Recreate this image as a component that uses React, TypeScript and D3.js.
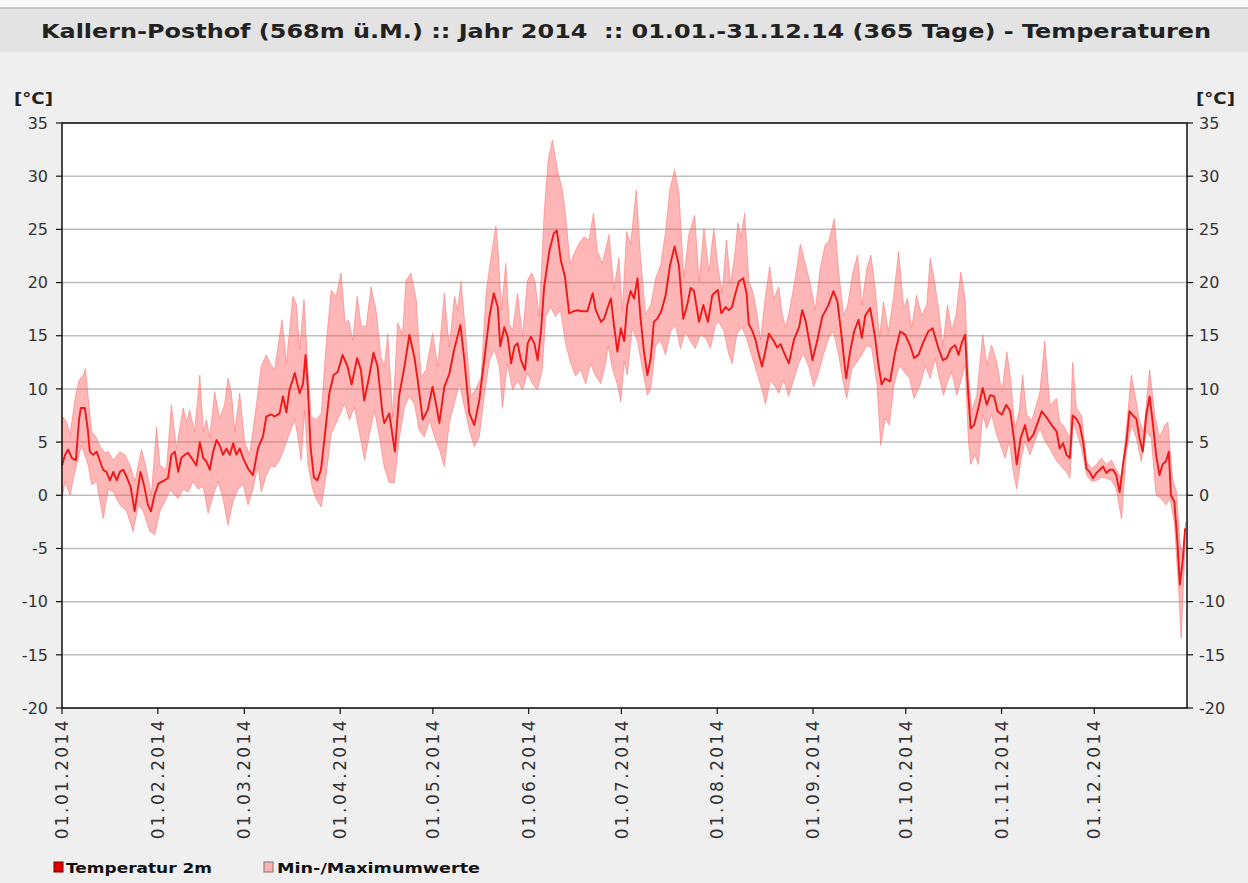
import React from 'react';
import * as d3 from 'd3';

// day of year where each month starts, and the axis labels
const monthStarts = [0, 31, 59, 90, 120, 151, 181, 212, 243, 273, 304, 334];
const monthLabels = [
  '01.01.2014', '01.02.2014', '01.03.2014', '01.04.2014', '01.05.2014', '01.06.2014',
  '01.07.2014', '01.08.2014', '01.09.2014', '01.10.2014', '01.11.2014', '01.12.2014',
];
const tempTicks = [-20, -15, -10, -5, 0, 5, 10, 15, 20, 25, 30, 35];

// [day of year, °C]
const tempMean = [
  [0, 2.8], [1, 3.8], [2, 4.3], [3.2, 3.5], [4.5, 3.3], [5.5, 7.1], [6.1, 8.2], [7.4, 8.2], [8.3, 6.3], [9, 4.1],
  [10.1, 3.8], [11.2, 4.1], [12.3, 3.2], [13.3, 2.4], [14.4, 2.2], [15.5, 1.4], [16.6, 2.2], [17.7, 1.4], [18.7, 2.2],
  [19.8, 2.4], [20.8, 1.8], [22.2, 0.8], [23.5, -1.5], [24.6, 0.7], [25.4, 2.2], [26.5, 1.0], [27.8, -0.9], [28.8, -1.5],
  [29.9, 0.0], [31.2, 1.1], [33.1, 1.4], [34.3, 1.6], [35.4, 3.8], [36.5, 4.1], [37.6, 2.2], [38.6, 3.5], [39.7, 3.8],
  [40.8, 4.0], [41.9, 3.5], [43.5, 2.8], [44.6, 5.0], [45.7, 3.5], [46.7, 3.2], [47.8, 2.4], [48.9, 4.1], [50, 5.2],
  [51, 4.7], [52.1, 3.8], [53.2, 4.4], [54.3, 3.8], [55.4, 4.9], [56.4, 3.8], [57.5, 4.4], [58.6, 3.5], [60.2, 2.5],
  [61.8, 1.9], [63.4, 4.4], [65, 5.5], [66.1, 7.4], [67.7, 7.6], [68.8, 7.4], [70.4, 7.7], [71.5, 9.3], [72.6, 7.8],
  [73.6, 9.9], [75.3, 11.5], [76.9, 9.6], [78, 10.5], [78.8, 13.2], [79.6, 9.9], [80.4, 4.6], [81.5, 1.7], [82.6, 1.4],
  [83.8, 2.4], [85.1, 5.8], [86.5, 9.6], [87.9, 11.3], [89.2, 11.6], [90.8, 13.2], [92.4, 12.1], [93.7, 10.4],
  [95.5, 12.9], [96.7, 11.8], [97.8, 8.9], [99.2, 10.9], [100.8, 13.4], [102.1, 12.1], [103.7, 7.7], [104.3, 6.8],
  [105.9, 7.7], [107, 5.5], [107.7, 4.1], [109.1, 9.4], [110.8, 12.1], [112.4, 15.1], [114, 13.0], [115.1, 10.8],
  [116.7, 7.1], [118.3, 8.0], [119.9, 10.2], [121, 8.6], [122.1, 6.8], [123.7, 10.2], [125.3, 11.4], [126.9, 13.7],
  [128.9, 16.0], [130.2, 12.7], [131.8, 7.7], [133.4, 6.6], [135, 8.9], [136.6, 12.7], [138.3, 16.8], [139.7, 19.0],
  [141, 17.7], [141.8, 14.0], [143.1, 15.8], [144.2, 14.9], [145.3, 12.4], [146.4, 14.0], [147.4, 14.3], [148.5, 12.7],
  [149.8, 11.8], [150.7, 14.3], [151.7, 14.9], [152.8, 14.3], [153.9, 12.7], [155, 15.5], [156, 19.6], [157.7, 23.0],
  [159.1, 24.6], [160.1, 24.9], [161.4, 22.1], [162.7, 20.6], [164.1, 17.1], [165.5, 17.3], [166.8, 17.4], [168.4, 17.3],
  [170, 17.3], [171.7, 19.0], [172.7, 17.4], [174.4, 16.3], [175.4, 16.6], [176.5, 17.6], [177.6, 18.5], [178.6, 16.0],
  [179.7, 13.5], [180.8, 15.7], [181.9, 14.5], [182.9, 17.9], [184, 19.2], [185.1, 18.5], [186.2, 20.4], [187.2, 16.6],
  [188.3, 13.5], [189.4, 11.3], [190.5, 12.9], [191.5, 16.3], [192.6, 16.6], [193.9, 17.3], [195.3, 18.8], [196.7, 21.6],
  [198.2, 23.4], [199.6, 21.6], [201, 16.6], [202.3, 17.9], [203.4, 19.5], [204.5, 19.2], [206.1, 16.3], [207.5, 17.9],
  [209, 16.3], [210.4, 18.8], [212.2, 19.3], [213.3, 17.1], [214.7, 17.7], [215.7, 17.4], [216.8, 17.7], [217.9, 19.0],
  [219, 20.1], [220.4, 20.4], [221.5, 19.0], [222.2, 16.1], [223.3, 15.5], [224.4, 14.6], [225.4, 13.3], [226.5, 12.1],
  [227.6, 13.6], [228.7, 15.2], [230.1, 14.6], [231.4, 13.9], [232.5, 14.2], [233.8, 13.3], [235.2, 12.4], [236.8, 14.6],
  [238.5, 15.8], [239.5, 17.4], [240.6, 16.4], [241.7, 14.6], [242.8, 12.7], [244.4, 14.6], [246, 16.8], [248, 17.9],
  [249.6, 19.2], [250.9, 18.2], [252.3, 14.8], [253.7, 11.0], [255, 13.5], [256.3, 15.4], [257.7, 16.5], [258.8, 14.8],
  [259.9, 16.9], [261.5, 17.6], [263.1, 14.8], [264.2, 12.2], [265.2, 10.4], [266.3, 11.0], [267.9, 10.7], [269.6, 13.5],
  [271.2, 15.4], [272.8, 15.1], [274.4, 14.1], [275.7, 12.9], [277.1, 13.2], [278.7, 14.4], [280.3, 15.4], [281.7, 15.7],
  [283.6, 13.8], [285, 12.7], [286.3, 12.9], [287.6, 13.8], [289, 14.1], [290.1, 13.2], [291.2, 14.4], [292.2, 15.1],
  [293.1, 10.1], [294, 6.3], [295.1, 6.6], [296.5, 8.2], [297.9, 10.1], [299.2, 8.5], [300.3, 9.4], [301.6, 9.3],
  [302.7, 7.9], [304.1, 7.6], [305.5, 8.5], [306.8, 7.9], [308.1, 5.1], [308.9, 2.9], [310.2, 5.4], [311.6, 6.6],
  [312.7, 5.1], [314.3, 5.7], [315.9, 7.0], [317, 7.9], [318.6, 7.3], [320.2, 6.6], [321.8, 6.0], [322.8, 4.4],
  [323.9, 4.9], [325, 3.8], [326.1, 3.5], [327, 7.5], [328.2, 7.2], [329.3, 6.6], [330.4, 5.0], [331.5, 2.5],
  [332.5, 2.2], [333.6, 1.6], [334.7, 2.1], [335.8, 2.4], [336.8, 2.7], [337.9, 2.1], [339, 2.4], [340.1, 2.4],
  [341.1, 1.9], [342.2, 0.3], [343.3, 2.9], [344.4, 5.0], [345.4, 7.9], [346.5, 7.5], [347.6, 7.2], [348.6, 5.4],
  [349.7, 4.1], [350.8, 7.5], [351.9, 9.3], [352.9, 6.9], [354, 3.8], [355.1, 1.9], [356.1, 2.9], [357.2, 3.2],
  [358.1, 4.1], [358.8, 0.0], [359.9, -0.6], [360.9, -4.4], [361.7, -8.4], [362.6, -6.2], [363.4, -3.1],
];

const tempMax = [
  [0, 7.5], [1.5, 6.9], [2.6, 5.7], [4.4, 9.4], [5.5, 10.8], [6.9, 11.3], [7.6, 11.9], [8.5, 9.1], [9.6, 6.0],
  [11.2, 5.4], [12.3, 4.6], [13.9, 4.0], [15, 4.1], [16.6, 3.3], [18.7, 4.1], [20.4, 3.8], [22, 2.8], [23.6, 1.3],
  [25.7, 4.3], [27.3, 2.5], [28.9, 0.0], [30.6, 6.4], [31.7, 2.8], [33.8, 2.4], [35.4, 8.5], [37, 4.4], [39.2, 8.2],
  [40.3, 6.9], [41.3, 8.0], [42.9, 6.0], [44.6, 11.3], [45.7, 6.0], [46.7, 7.1], [47.8, 5.4], [49.4, 9.7], [51, 7.2],
  [52.6, 8.5], [53.7, 11.0], [54.8, 9.7], [55.9, 6.0], [57.5, 9.6], [59.1, 5.0], [60.7, 3.8], [62.9, 8.5], [64.5, 12.2],
  [66.1, 13.2], [67.7, 12.2], [68.8, 11.8], [69.9, 14.0], [71.2, 16.5], [72.6, 12.4], [74.7, 18.7], [75.8, 18.0],
  [76.9, 13.7], [78.3, 18.4], [79.4, 12.7], [80.6, 7.4], [82.3, 7.1], [83.9, 7.7], [85.5, 14.3], [87.1, 19.3],
  [88.7, 18.7], [90.3, 20.9], [91.6, 16.2], [92.7, 16.5], [94.1, 14.6], [95.5, 18.7], [96.8, 15.9], [98.4, 15.9],
  [100, 19.6], [101.6, 17.4], [103.2, 13.0], [104.3, 12.1], [105.4, 15.2], [107, 7.4], [108.6, 16.2], [110.2, 15.2],
  [111.3, 20.2], [112.9, 20.9], [114.6, 18.4], [116.2, 11.1], [117.8, 11.8], [119.9, 15.2], [121.6, 12.1], [123.7, 19.0],
  [125.3, 13.9], [127, 18.7], [128, 17.4], [129.1, 20.1], [130.7, 14.9], [132.3, 9.3], [133.9, 10.0], [135.6, 11.1],
  [137.2, 19.0], [138.8, 22.4], [140.4, 25.3], [141.1, 23.0], [142.2, 17.4], [143.6, 21.8], [144.7, 16.1], [145.8, 15.5],
  [147.4, 19.0], [149, 14.9], [150.6, 20.2], [151.9, 20.9], [153, 20.2], [154.4, 16.8], [156, 26.5], [157.3, 31.5],
  [158.7, 33.4], [160.3, 30.6], [161.9, 28.7], [163, 26.2], [164.4, 21.8], [165.7, 22.7], [167.3, 23.7], [168.9, 24.3],
  [170.5, 24.0], [172, 26.5], [173.2, 23.0], [174.8, 21.8], [177, 24.5], [178.6, 19.4], [180.2, 22.3], [181.3, 17.3],
  [182.7, 24.8], [184, 23.6], [185.8, 28.7], [187.2, 22.3], [188.8, 17.0], [190.5, 17.9], [192.1, 20.4], [193.7, 21.6],
  [195.3, 24.8], [196.7, 28.8], [198.2, 30.6], [199.6, 28.5], [201.2, 20.4], [202.8, 24.5], [204.7, 26.3], [206.1, 20.1],
  [207.7, 25.1], [209.3, 21.0], [210.9, 25.1], [212.2, 21.5], [213.6, 19.0], [215, 24.0], [216.3, 19.9], [217.6, 22.4],
  [218.7, 25.6], [219.7, 24.3], [220.9, 26.5], [222.2, 20.2], [223.6, 19.0], [224.7, 17.4], [226, 14.6], [227.6, 18.7],
  [229, 21.5], [230.3, 18.4], [231.9, 19.6], [233, 17.1], [234.1, 15.8], [235.4, 17.4], [237.3, 20.5], [238.9, 23.6],
  [240.5, 21.8], [242.1, 19.9], [243.7, 17.4], [245.4, 21.5], [247, 23.6], [248, 23.8], [249.9, 26.0], [251.3, 21.0],
  [252.9, 16.9], [254.2, 17.9], [255.9, 21.0], [257.4, 22.6], [258.8, 17.9], [260.4, 21.3], [261.7, 22.6], [263.1, 19.5],
  [264.5, 14.8], [265.8, 18.2], [267.4, 15.4], [269, 18.5], [270.7, 22.9], [272.3, 17.6], [273.6, 18.5], [274.9, 15.7],
  [276.5, 18.8], [278.2, 16.9], [279.8, 17.9], [280.9, 22.3], [282, 20.7], [283.6, 17.6], [285, 14.0], [286.5, 17.9],
  [287.9, 15.5], [289.3, 17.0], [290.8, 21.0], [292.2, 18.5], [293.3, 11.0], [294.4, 8.0], [296, 9.4], [297.9, 15.1],
  [299.2, 12.3], [300.8, 14.1], [302.4, 12.6], [304.1, 9.7], [305.7, 13.5], [306.9, 11.0], [308.3, 6.3], [309.7, 7.9],
  [310.8, 11.3], [312.1, 7.6], [313.7, 7.0], [315.3, 8.5], [316.4, 9.7], [318, 14.5], [319.6, 8.5], [320.7, 8.8],
  [321.8, 9.1], [322.8, 6.9], [323.9, 6.6], [325, 6.0], [326.1, 5.4], [327, 12.5], [328.2, 8.2], [329.9, 7.5],
  [331.5, 3.2], [333.1, 2.5], [334.7, 2.9], [336.3, 3.5], [337.9, 2.9], [339.6, 3.3], [341.1, 2.4], [342.8, 1.6],
  [344.4, 6.3], [346, 11.3], [347.4, 9.1], [348.7, 6.9], [350, 6.0], [351.9, 11.8], [353.6, 7.5], [355.1, 5.4],
  [356.8, 6.6], [357.8, 6.9], [359.3, 1.6], [360.6, 0.3], [361.7, -4.4], [362.7, -5.6], [363.6, -2.5],
];

const tempMin = [
  [0, -0.3], [1, 1.3], [2.6, 0.0], [3.7, 1.6], [4.7, 2.8], [6.3, 4.7], [8.5, 2.8], [9.6, 1.0], [11.2, 1.3],
  [13.3, -2.2], [15, 0.6], [16.6, 0.3], [18.7, -0.9], [20.9, -1.5], [23, -3.4], [24.7, -0.9], [26.3, -1.5],
  [28.4, -3.4], [30, -3.7], [31.7, -1.5], [33.8, -0.3], [34.9, 0.5], [37.6, -0.3], [39.2, 0.6], [40.8, 0.3],
  [42.4, 1.3], [44, 0.6], [45.7, 0.8], [47.3, -1.7], [48.9, 0.0], [50.5, 1.3], [52.1, -0.3], [53.7, -2.8], [55.3, -0.6],
  [57, 0.6], [58.6, 1.0], [60.2, -0.9], [61.8, 0.6], [63.4, 2.8], [64.5, 0.3], [66.1, 1.9], [67.7, 2.8], [68.8, 2.6],
  [70.4, 3.3], [72, 4.5], [73.6, 5.8], [75.3, 7.1], [76.3, 5.5], [77.4, 3.3], [78.5, 8.0], [79.6, 2.9], [80.9, 0.8],
  [82.3, -0.4], [83.9, -1.1], [85.5, 2.0], [87.1, 5.8], [89.2, 7.1], [91.4, 8.6], [93, 7.1], [94.6, 8.3], [96.3, 5.8],
  [97.9, 3.3], [99.5, 5.8], [101.1, 8.0], [102.7, 5.5], [104.3, 2.6], [105.9, 1.2], [107.5, 1.2], [109.2, 5.5],
  [110.8, 8.3], [112.4, 9.3], [114, 8.6], [115.6, 6.1], [117.2, 5.5], [118.9, 7.1], [120.5, 5.5], [122.1, 4.3],
  [123.7, 2.7], [125.3, 6.8], [126.9, 8.6], [128.6, 10.5], [130.2, 8.3], [131.8, 6.1], [133.4, 4.6], [135, 5.5],
  [136.6, 9.3], [138.3, 12.7], [139.9, 13.7], [141.5, 12.1], [142.5, 8.3], [144.1, 12.4], [145.8, 9.9], [147.4, 10.8],
  [149, 9.9], [150.6, 11.5], [152.2, 10.5], [153.8, 9.9], [155.4, 11.8], [156.5, 16.8], [158.1, 17.7], [159.7, 16.8],
  [161.3, 17.4], [162.9, 14.3], [164.6, 12.4], [166.2, 11.2], [167.8, 11.8], [169.4, 10.5], [171, 12.4], [172.7, 11.2],
  [174.3, 10.5], [175.9, 12.4], [176.7, 14.1], [178.1, 11.9], [179.7, 10.4], [180.8, 8.8], [181.9, 12.6], [182.9, 11.3],
  [184.5, 15.7], [186.2, 14.5], [187.8, 11.9], [189.4, 9.4], [190.5, 10.1], [192.1, 14.1], [193.7, 14.5], [195.3, 13.2],
  [196.9, 15.4], [198.5, 16.0], [200.1, 13.8], [201.7, 15.4], [203.3, 14.5], [204.9, 13.8], [206.5, 15.1], [208.2, 14.8],
  [209.8, 13.8], [211.4, 16.0], [212.5, 16.3], [214.1, 15.5], [215.7, 13.3], [216.8, 12.4], [218.4, 15.2], [220, 15.8],
  [221.7, 14.6], [223.3, 13.0], [224.9, 11.5], [226.5, 9.9], [227.6, 8.6], [229.2, 10.8], [230.8, 10.2], [231.9, 9.6],
  [233.5, 10.8], [235.1, 9.3], [236.7, 10.8], [238.3, 12.4], [239.9, 13.3], [241.6, 12.1], [243.2, 10.2], [244.8, 11.5],
  [246.4, 13.3], [248.2, 14.9], [249.6, 15.4], [251.3, 13.2], [252.9, 10.4], [253.9, 9.1], [255.6, 11.9], [257.2, 12.5],
  [258.8, 13.2], [260.4, 14.1], [262, 13.8], [263.7, 10.4], [264.9, 4.7], [266.3, 7.2], [267.7, 6.6], [269.2, 10.4],
  [270.9, 12.2], [272.5, 11.6], [274.2, 11.0], [275.7, 9.1], [277.7, 10.4], [279.3, 12.2], [280.9, 11.0], [282.5, 12.9],
  [283.6, 11.3], [285.2, 9.4], [286.5, 10.7], [287.9, 11.6], [289.5, 9.4], [290.8, 10.7], [292.2, 12.3], [293.3, 5.1],
  [294, 2.9], [295.4, 3.8], [296.5, 2.9], [297.9, 7.6], [299.2, 6.3], [300.8, 7.6], [302.4, 5.7], [304.1, 4.4],
  [305.1, 3.5], [306.5, 5.1], [307.8, 2.2], [308.9, 0.6], [310.2, 3.2], [311.6, 5.1], [313.2, 3.8], [314.8, 5.1],
  [316.4, 6.3], [318, 5.1], [319.6, 4.4], [320.7, 3.8], [321.8, 3.2], [322.8, 2.9], [323.9, 2.5], [325, 2.2],
  [326.1, 1.6], [327.2, 6.9], [328.2, 6.0], [329.9, 4.4], [331.5, 1.9], [333.1, 1.3], [334.7, 1.4], [336.3, 1.7],
  [337.9, 1.6], [339.6, 1.4], [341.1, 0.6], [342.8, -2.2], [344.4, 4.1], [346, 6.6], [347.6, 5.4], [349.2, 3.2],
  [350.8, 6.0], [352.4, 5.4], [354, 0.0], [355.6, -0.3], [357.2, -0.9], [358.5, -0.3], [359.9, -2.5], [361.3, -8.8],
  [362.1, -13.4], [362.8, -8.8], [363.4, -4.4],
];

const W = 1248;
const H = 883;
const plotLeft = 62;
const plotRight = 1187;
const plotTop = 123;
const plotBottom = 708;
const font = 'DejaVu Sans, Verdana, sans-serif';

export default function App() {
  const x = d3.scaleLinear().domain([0, 364]).range([plotLeft, plotRight]);
  const y = d3.scaleLinear().domain([-20, 35]).range([plotBottom, plotTop]);

  const line = d3
    .line<number[]>()
    .x((d) => x(d[0]))
    .y((d) => y(d[1]));

  // min/max band: max forwards, then min backwards
  const bandPath = line([...tempMax, ...tempMin.slice().reverse()]) + 'Z';
  const meanPath = line(tempMean);

  return (
    <div>
      <style>{'body{margin:0;background:#efefef}'}</style>
      <svg width={W} height={H} style={{ display: 'block' }} fontFamily={font}>
        <rect x={0} y={0} width={W} height={H} fill="#efefef" />
        <rect x={0} y={0} width={W} height={8} fill="#f8f8f8" />
        <rect x={0} y={8} width={W} height={44} fill="#e3e3e3" />
        <line x1={0} x2={W} y1={8} y2={8} stroke="#b8b8b8" strokeWidth={1.5} />
        <text
          x={41}
          y={38}
          fontSize={20}
          fontWeight="bold"
          fill="#222"
          textLength={1170}
          lengthAdjust="spacingAndGlyphs"
          style={{ whiteSpace: 'pre' }}
        >
          Kallern-Posthof (568m ü.M.) :: Jahr 2014  :: 01.01.-31.12.14 (365 Tage) - Temperaturen
        </text>

        <rect x={plotLeft} y={plotTop} width={plotRight - plotLeft} height={plotBottom - plotTop} fill="#fff" />

        {tempTicks.map((t) => (
          <line key={'g' + t} x1={plotLeft} x2={plotRight} y1={y(t)} y2={y(t)} stroke="#bdbdbd" strokeWidth={1.5} />
        ))}

        <path d={bandPath} fill="rgb(255,80,80)" fillOpacity={0.42} stroke="rgb(255,120,120)" strokeWidth={0.6} />
        <path d={meanPath} fill="none" stroke="#f01818" strokeWidth={1.9} strokeLinejoin="round" />

        {/* frame */}
        <rect
          x={plotLeft}
          y={plotTop}
          width={plotRight - plotLeft}
          height={plotBottom - plotTop}
          fill="none"
          stroke="#111"
          strokeWidth={1.5}
        />

        {/* y axes */}
        {tempTicks.map((t) => (
          <g key={'t' + t}>
            <line x1={plotLeft - 6} x2={plotLeft} y1={y(t)} y2={y(t)} stroke="#111" strokeWidth={1.2} />
            <line x1={plotRight} x2={plotRight + 6} y1={y(t)} y2={y(t)} stroke="#111" strokeWidth={1.2} />
            <text x={48} y={y(t)} dy="0.36em" textAnchor="end" fontSize={16} fill="#333">
              {t}
            </text>
            <text x={1199} y={y(t)} dy="0.36em" textAnchor="start" fontSize={16} fill="#333">
              {t}
            </text>
          </g>
        ))}
        <text x={14} y={104} fontSize={16} fontWeight="bold" fill="#222" textLength={39} lengthAdjust="spacingAndGlyphs">[°C]</text>
        <text x={1196} y={104} fontSize={16} fontWeight="bold" fill="#222" textLength={39} lengthAdjust="spacingAndGlyphs">[°C]</text>

        {/* x axis */}
        {monthStarts.map((d, i) => (
          <g key={'m' + d}>
            <line x1={x(d)} x2={x(d)} y1={plotBottom} y2={plotBottom + 6} stroke="#111" strokeWidth={1.2} />
            <text
              transform={`translate(${x(d)},${plotBottom + 10}) rotate(-90)`}
              dy="0.36em"
              textAnchor="end"
              fontSize={17}
              letterSpacing={2.4}
              fill="#333"
            >
              {monthLabels[i]}
            </text>
          </g>
        ))}

        {/* legend */}
        <rect x={54} y={862} width={9} height={10} fill="#e00000" stroke="#700" strokeWidth={1} />
        <text x={66} y={873} fontSize={14} fontWeight="bold" fill="#111" textLength={146} lengthAdjust="spacingAndGlyphs">
          Temperatur 2m
        </text>
        <rect x={264} y={862} width={9} height={10} fill="#ffb0b0" stroke="#777" strokeWidth={1} />
        <text x={277} y={873} fontSize={14} fontWeight="bold" fill="#111" textLength={203} lengthAdjust="spacingAndGlyphs">
          Min-/Maximumwerte
        </text>
      </svg>
    </div>
  );
}
